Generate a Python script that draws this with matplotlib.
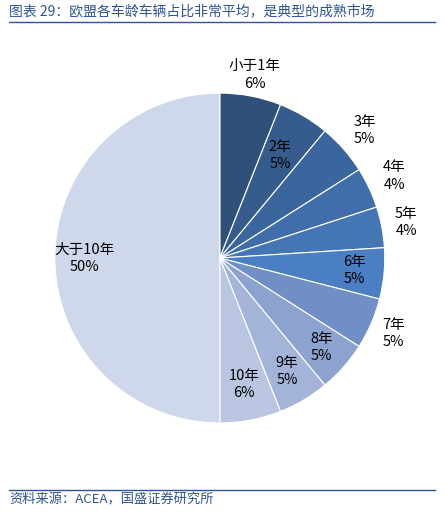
import matplotlib.pyplot as plt
import numpy as np

plt.rcParams['font.family'] = ['Noto Sans CJK SC', 'DejaVu Sans']

labels = ['小于1年', '2年', '3年', '4年', '5年', '6年', '7年', '8年', '9年', '10年', '大于10年']
values = [6, 5, 5, 4, 4, 5, 5, 5, 5, 6, 50]
colors = ['#2F5078', '#355C8C', '#3A659D', '#3F6EAA', '#4476B6', '#4A7FC3',
          '#6F8FC6', '#8CA2CF', '#A3B4D8', '#BAC6E1', '#CFD7EA']
# label distance per slice (fraction of radius)
dists = [1.13, 0.72, 1.17, 1.17, 1.15, 0.82, 1.15, 0.82, 0.8, 0.78, 0.82]

fig = plt.figure(figsize=(4.44, 5.13), dpi=100)
ax = fig.add_axes([0.012, 0.079, 0.966, 0.836])
wedges, _ = ax.pie(values, colors=colors, startangle=90, counterclock=False,
                   wedgeprops=dict(edgecolor='white', linewidth=0.8))
for w, lab, v, d in zip(wedges, labels, values, dists):
    ang = np.deg2rad((w.theta1 + w.theta2) / 2)
    ax.text(d * np.cos(ang), d * np.sin(ang), f'{lab}\n{v}%', ha='center', va='center',
            fontsize=10.5, color='black', linespacing=1.3)
ax.set_xlim(-1.3, 1.3)
ax.set_ylim(-1.3, 1.3)
ax.set_aspect('equal')

blue = '#2E5597'
fig.text(0.02, 0.978, '图表 29：欧盟各车龄车辆占比非常平均，是典型的成熟市场', fontsize=10,
         color=blue, style='italic', va='center')
fig.add_artist(plt.Line2D([0.02, 0.98], [0.958, 0.958], color=blue, lw=1))
fig.add_artist(plt.Line2D([0.02, 0.98], [0.045, 0.045], color=blue, lw=1))
fig.text(0.02, 0.025, '资料来源：ACEA，国盛证券研究所', fontsize=9.5, color=blue,
         style='italic', va='center')

fig.savefig('out.png', dpi=100)
